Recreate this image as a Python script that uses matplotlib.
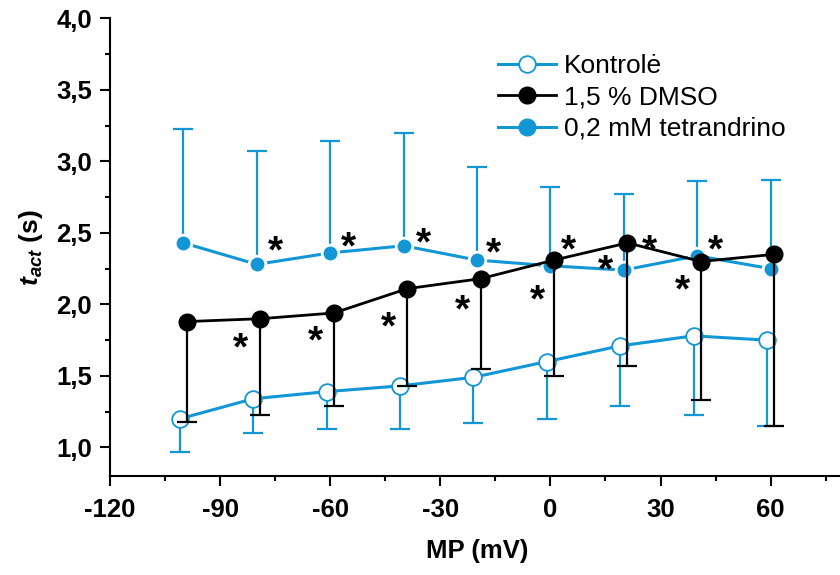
import matplotlib
matplotlib.use('Agg')
import matplotlib.pyplot as plt
from matplotlib.ticker import MultipleLocator, FuncFormatter
from matplotlib.lines import Line2D

plt.rcParams['font.family'] = ['Liberation Sans', 'DejaVu Sans']
plt.rcParams['mathtext.fontset'] = 'custom'
plt.rcParams['mathtext.bfit'] = 'Liberation Sans:italic:bold'
plt.rcParams['mathtext.it'] = 'Liberation Sans:italic'
plt.rcParams['mathtext.bf'] = 'Liberation Sans:bold'

# membranos potencialas (mV)
mp = [-100, -80, -60, -40, -20, 0, 20, 40, 60]

# Kontrolė: vidurkis ir apatinė paklaidos riba
kontrole = [1.20, 1.34, 1.39, 1.43, 1.49, 1.60, 1.71, 1.78, 1.75]
kontrole_low = [0.97, 1.10, 1.13, 1.13, 1.17, 1.20, 1.29, 1.23, 1.15]

# 1,5 % DMSO: vidurkis ir apatinė riba
dmso = [1.88, 1.90, 1.94, 2.11, 2.18, 2.31, 2.43, 2.30, 2.35]
dmso_low = [1.18, 1.23, 1.29, 1.43, 1.55, 1.50, 1.57, 1.33, 1.15]

# 0,2 mM tetrandrino: vidurkis ir viršutinė riba
tetra = [2.43, 2.28, 2.36, 2.41, 2.31, 2.27, 2.24, 2.34, 2.25]
tetra_high = [3.23, 3.07, 3.14, 3.20, 2.96, 2.82, 2.77, 2.86, 2.87]

# žvaigždutės (reikšmingumas)
star_x = [-75, -55, -34.5, -15.5, 5, 27, 45, -84.5, -64, -44, -24, -3.5, 15, 36]
star_y = [2.42, 2.45, 2.48, 2.41, 2.43, 2.43, 2.43, 1.74, 1.79, 1.89, 2.01, 2.08, 2.29, 2.15]

blue = '#1296d6'
off_k, off_d, off_t = -1.0, 1.0, 0.0

fig = plt.figure(figsize=(8.4, 5.75), dpi=100)
ax = fig.add_axes([110 / 840, 99 / 575, 734 / 840, 457.6 / 575])

xk = [x + off_k for x in mp]
xd = [x + off_d for x in mp]
xt = [x + off_t for x in mp]


# paklaidos
def bars(xs, y0, y1, color, lw, z):
    ax.vlines(xs, y0, y1, color=color, lw=lw, zorder=z)
    ax.plot(xs, y1, ls='none', marker='_', ms=14, mew=lw, color=color, zorder=z)


bars(xk, kontrole, kontrole_low, blue, 1.6, 2)
bars(xt, tetra, tetra_high, blue, 1.6, 3)
bars(xd, dmso, dmso_low, 'black', 1.6, 5)

ax.plot(xk, kontrole, color=blue, lw=2.2, marker='o', ms=12, mfc='white',
        mec=blue, mew=1.3, zorder=3)
ax.plot(xt, tetra, color=blue, lw=2.2, marker='o', ms=12, mfc=blue,
        mec='white', mew=2.0, zorder=4)
ax.plot(xd, dmso, color='black', lw=2.0, marker='o', ms=12, mfc='black',
        mec='black', mew=1.0, zorder=6)

for sx, sy in zip(star_x, star_y):
    ax.annotate('*', (sx, sy), xytext=(0, -6), textcoords='offset points',
                ha='center', va='center', fontsize=28, fontweight='bold', zorder=7)

ax.set_xlim(-120, 80)
ax.set_ylim(0.8, 4.0)
ax.xaxis.set_major_locator(MultipleLocator(30))
ax.xaxis.set_minor_locator(MultipleLocator(15))
ax.yaxis.set_minor_locator(MultipleLocator(0.25))
ax.set_yticks([1.0, 1.5, 2.0, 2.5, 3.0, 3.5, 4.0])
ax.yaxis.set_major_formatter(FuncFormatter(lambda v, p: f'{v:.1f}'.replace('.', ',')))
ax.xaxis.set_major_formatter(FuncFormatter(lambda v, p: f'{v:.0f}'))

for s in ['top', 'right']:
    ax.spines[s].set_visible(False)
for s in ['left', 'bottom']:
    ax.spines[s].set_linewidth(1.5)
ax.tick_params(which='major', length=7, width=1.5, labelsize=18.5)
ax.tick_params(which='minor', length=3.5, width=1.5)
ax.tick_params(axis='x', which='major', pad=9)
ax.tick_params(axis='y', which='major', pad=6)
for lab in ax.get_xticklabels() + ax.get_yticklabels():
    lab.set_fontweight('bold')

ax.set_xlabel('MP (mV)', fontsize=18.5, fontweight='bold', labelpad=12)
ax.set_ylabel(r'$\mathbfit{t}_{\mathbfit{act}}$ (s)', fontsize=19,
              fontweight='bold', labelpad=8)

handles = [
    Line2D([], [], color=blue, lw=2.2, marker='o', ms=12, mfc='white', mec=blue, mew=1.3),
    Line2D([], [], color='black', lw=2.0, marker='o', ms=12, mfc='black', mec='black'),
    Line2D([], [], color=blue, lw=2.2, marker='o', ms=12, mfc=blue, mec=blue),
]
ax.legend(handles, ['Kontrolė', '1,5 % DMSO', '0,2 mM tetrandrino'],
          loc='upper left', bbox_to_anchor=(0.5286, 0.922), frameon=False,
          borderpad=0, borderaxespad=0,
          fontsize=19, handlelength=2.2, handletextpad=0.3, labelspacing=0.28)

fig.savefig('out.png', dpi=100)
